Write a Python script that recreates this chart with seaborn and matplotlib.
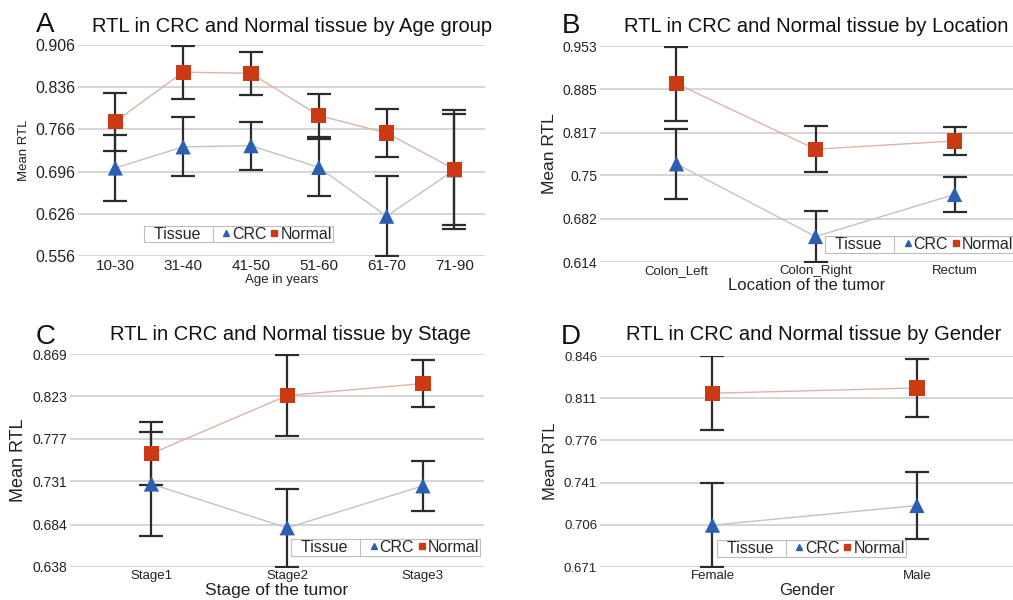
import numpy as np
import pandas as pd
import matplotlib
matplotlib.use("Agg")
import matplotlib.pyplot as plt
from matplotlib.lines import Line2D
import seaborn as sns

# ---------------- data ----------------
age_groups = ["10-30", "31-40", "41-50", "51-60", "61-70", "71-90"]
age_crc = [0.702, 0.737, 0.739, 0.703, 0.622, 0.699]
age_crc_err = [0.055, 0.049, 0.040, 0.047, 0.066, 0.099]
age_normal = [0.779, 0.861, 0.859, 0.789, 0.760, 0.700]
age_normal_err = [0.048, 0.044, 0.036, 0.036, 0.040, 0.092]
age_ticks = ["0.556", "0.626", "0.696", "0.766", "0.836", "0.906"]

locations = ["Colon_Left", "Colon_Right", "Rectum"]
loc_crc = [0.768, 0.654, 0.720]
loc_crc_err = [0.055, 0.040, 0.028]
loc_normal = [0.894, 0.791, 0.804]
loc_normal_err = [0.058, 0.036, 0.022]
loc_ticks = ["0.614", "0.682", "0.75", "0.817", "0.885", "0.953"]

stages = ["Stage1", "Stage2", "Stage3"]
stage_crc = [0.728, 0.6805, 0.726]
stage_crc_err = [0.056, 0.0425, 0.027]
stage_normal = [0.761, 0.824, 0.837]
stage_normal_err = [0.0345, 0.044, 0.025]
stage_ticks = ["0.638", "0.684", "0.731", "0.777", "0.823", "0.869"]

genders = ["Female", "Male"]
gender_crc = [0.7057, 0.722]
gender_crc_err = [0.0347, 0.0276]
gender_normal = [0.8151, 0.8195]
gender_normal_err = [0.0306, 0.0243]
gender_ticks = ["0.671", "0.706", "0.741", "0.776", "0.811", "0.846"]

tissues = ["CRC", "Normal"]

# ---------------- style ----------------
sns.set_theme(style="white")
plt.rcParams["font.family"] = ["Liberation Sans", "DejaVu Sans"]

MARK_COL = {"CRC": "#2b5fb4", "Normal": "#cc3a14"}
LINE_COL = {"CRC": "#c6c0c6", "Normal": "#dcb4a8"}
MARKERS = {"CRC": "^", "Normal": "s"}
GRID_COL = "#cacaca"

W, H = 1013.0, 600.0
fig = plt.figure(figsize=(W / 100, H / 100), dpi=100)
legends = []


def panel(rect, cats, crc, crc_err, normal, normal_err, ticks, xlim,
          title, letter, letter_xy, title_xy, xlabel, ylabel,
          tick_fs, xtick_fs, xlabel_fs, ylabel_fs, leg_anchor):
    ax = fig.add_axes(rect)
    df = pd.DataFrame({
        "cat": list(cats) * 2,
        "pos": list(range(len(cats))) * 2,
        "mean": list(crc) + list(normal),
        "err": list(crc_err) + list(normal_err),
        "Tissue": ["CRC"] * len(cats) + ["Normal"] * len(cats),
    })
    tvals = [float(t) for t in ticks]
    for t in tvals:
        ax.axhline(t, color=GRID_COL, lw=1.1, zorder=0)
    # connecting lines
    sns.lineplot(data=df, x="pos", y="mean", hue="Tissue", palette=LINE_COL,
                 lw=1.0, legend=False, ax=ax, zorder=1, sort=False)
    # error bars
    for tissue in tissues:
        sub = df[df["Tissue"] == tissue]
        ax.errorbar(sub["pos"], sub["mean"], yerr=sub["err"], fmt="none",
                    ecolor="#2b2b2b", elinewidth=1.6, capsize=8.5, capthick=1.6,
                    zorder=2)
    # markers
    sns.scatterplot(data=df, x="pos", y="mean", hue="Tissue", style="Tissue",
                    palette=MARK_COL, markers=MARKERS, s=120, linewidth=0,
                    edgecolor="none", legend=False, ax=ax, zorder=3)
    ax.set_xlim(*xlim)
    ax.set_ylim(tvals[0], tvals[-1])
    ax.set_yticks(tvals)
    ax.set_yticklabels(ticks, fontsize=tick_fs, color="#222222")
    ax.set_xticks(range(len(cats)))
    ax.set_xticklabels(cats, fontsize=xtick_fs, color="#222222")
    ax.tick_params(axis="both", length=0, pad=2)
    ax.set_xlabel(xlabel, fontsize=xlabel_fs, color="#222222", labelpad=1)
    ax.set_ylabel(ylabel, fontsize=ylabel_fs, color="#222222", labelpad=4)
    for s in ax.spines.values():
        s.set_visible(False)
    ax.grid(False)
    # legend: "Tissue | ▲CRC ■Normal"
    handles = [
        Line2D([], [], linestyle="none", marker=None),
        Line2D([], [], linestyle="none", marker="^", color=MARK_COL["CRC"], markersize=5),
        Line2D([], [], linestyle="none", marker="s", color=MARK_COL["Normal"], markersize=5),
    ]
    leg = ax.legend(handles, ["Tissue    ", "CRC", "Normal"], ncol=3,
                    loc="center left", bbox_to_anchor=leg_anchor, fontsize=11.5,
                    frameon=True, fancybox=False, framealpha=1,
                    edgecolor="#bdbdbd", handlelength=0.45, handletextpad=0.15,
                    columnspacing=0.25, borderpad=0.05, borderaxespad=0)
    leg.get_frame().set_linewidth(0.8)
    leg.set_zorder(5)
    legends.append(leg)
    fig.text(letter_xy[0], letter_xy[1], letter, fontsize=20, ha="left",
             va="center", color="#111111")
    fig.text(title_xy[0], title_xy[1], title, fontsize=14.5, ha="left",
             va="center", color="#111111")
    return ax


panel([78 / W, 1 - 256 / H, 407 / W, 211 / H], age_groups,
      age_crc, age_crc_err, age_normal, age_normal_err, age_ticks,
      (-0.55, 5.45), "RTL in CRC and Normal tissue by Age group", "A",
      (36 / W, 1 - 25 / H), (92 / W, 1 - 26 / H),
      "Age in years", "Mean RTL", 11.5, 11, 9.5, 9.5, (0.162, 0.104))

panel([600 / W, 1 - 262 / H, 413 / W, 216 / H], locations,
      loc_crc, loc_crc_err, loc_normal, loc_normal_err, loc_ticks,
      (-0.55, 2.42), "RTL in CRC and Normal tissue by Location", "B",
      (562 / W, 1 - 26 / H), (624 / W, 1 - 26 / H),
      "Location of the tumor", "Mean RTL", 10, 9.5, 12, 12.5, (0.545, 0.081))

panel([70 / W, 1 - 567 / H, 414 / W, 213 / H], stages,
      stage_crc, stage_crc_err, stage_normal, stage_normal_err, stage_ticks,
      (-0.6, 2.45), "RTL in CRC and Normal tissue by Stage", "C",
      (36 / W, 1 - 337 / H), (110 / W, 1 - 335 / H),
      "Stage of the tumor", "Mean RTL", 10, 9.5, 12.5, 13, (0.534, 0.092))

panel([600 / W, 1 - 567 / H, 413 / W, 211 / H], genders,
      gender_crc, gender_crc_err, gender_normal, gender_normal_err, gender_ticks,
      (-0.55, 1.47), "RTL in CRC and Normal tissue by Gender", "D",
      (561 / W, 1 - 337 / H), (626 / W, 1 - 335 / H),
      "Gender", "Mean RTL", 9.5, 9.5, 12, 12, (0.283, 0.088))

# separator line inside each legend, after the "Tissue" label
fig.canvas.draw()
renderer = fig.canvas.get_renderer()
for leg in legends:
    tb = leg.get_texts()[0].get_window_extent(renderer)
    fb = leg.get_frame().get_window_extent(renderer)
    xs = (tb.x1 - 6) / W
    fig.add_artist(Line2D([xs, xs], [fb.y0 / H, fb.y1 / H],
                          transform=fig.transFigure, color="#bdbdbd",
                          lw=0.8, zorder=6))

fig.savefig("out.png", dpi=100)
